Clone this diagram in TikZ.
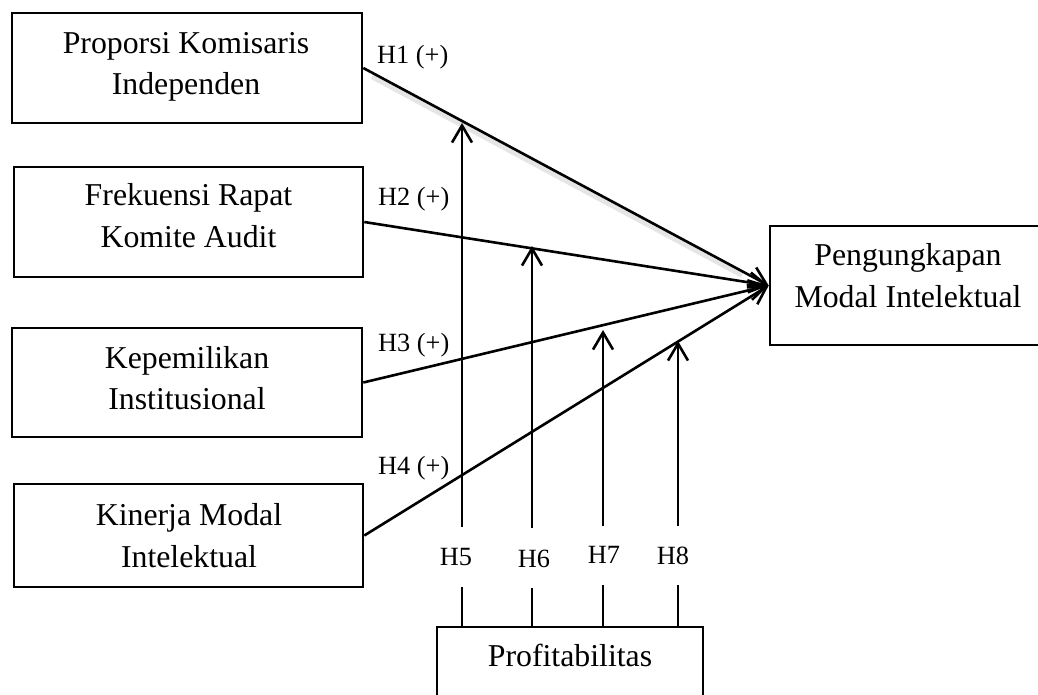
\documentclass[tikz,border=0pt]{standalone}
\usepackage{fontspec}
\setmainfont{Liberation Serif}
\usetikzlibrary{arrows.meta}
\begin{document}
\begin{tikzpicture}[x=1pt,y=-1pt,
  box/.style={draw, line width=2.6pt, inner sep=0pt},
  txt/.style={font=\fontsize{31.8}{41.5}\selectfont, inner sep=0pt, anchor=base},
  hyp/.style={font=\fontsize{26.3}{30}\selectfont, inner sep=0pt, anchor=base},
  hypw/.style={hyp, anchor=base west},
  plainline/.style={line width=2.6pt},
  conn/.style={line width=2.6pt, -{Straight Barb[length=17pt,width=20pt]}},
  shade/.style={preaction={draw, -, black!10, line width=6pt, shorten >=30pt, shorten <=10pt, transform canvas={yshift=-3.5pt}}}
]
\useasboundingbox (0,0) rectangle (1038,694);
\clip (0,0) rectangle (1038,694);

% boxes
\node[box, minimum width=350pt, minimum height=110pt] (b1) at (187,68) {};
\node[box, minimum width=349pt, minimum height=110pt] (b2) at (188.5,222) {};
\node[box, minimum width=350pt, minimum height=109pt] (b3) at (187,382.5) {};
\node[box, minimum width=349pt, minimum height=103pt] (b4) at (188.5,535.5) {};
\node[box, minimum width=280pt, minimum height=119pt] (r) at (910,285.5) {};
\node[box, minimum width=266pt, minimum height=94pt] (p) at (570,674) {};

% box texts
\node[txt] (b1a) at (186,53) {Proporsi Komisaris};
\node[txt] (b1b) at (186,94) {Independen};
\node[txt] (b2a) at (188.5,205) {Frekuensi Rapat};
\node[txt] (b2b) at (188.5,247) {Komite Audit};
\node[txt] (b3a) at (187,368) {Kepemilikan};
\node[txt] (b3b) at (187,409) {Institusional};
\node[txt] (b4a) at (189,525) {Kinerja Modal};
\node[txt] (b4b) at (189,567) {Intelektual};
\node[txt] (ra) at (908,265) {Pengungkapan};
\node[txt] (rb) at (908,307) {Modal Intelektual};
\node[txt] (pa) at (570,666) {Profitabilitas};

% hypothesis labels
\node[hypw] (l1) at (377,63) {H1 (+)};
\node[hypw] (l2) at (378,205) {H2 (+)};
\node[hypw] (l3) at (378,351) {H3 (+)};
\node[hypw] (l4) at (378,474) {H4 (+)};
\node[hyp] (l5) at (456,565) {H5};
\node[hyp] (l6) at (534,567) {H6};
\node[hyp] (l7) at (604,563) {H7};
\node[hyp] (l8) at (673,564) {H8};

% direct paths
\draw[conn, shade] (b1.east) -- (r.west);
\draw[conn] (b2.east) -- (r.west);
\draw[conn] (b3.east) -- (r.west);
\draw[conn] (b4.east) -- (r.west);

% moderator coordinates
\coordinate (m5lo) at (462,587);
\coordinate (m5hi) at (462,527);
\coordinate (m5tip) at (462,123);
\coordinate (m6lo) at (532,588);
\coordinate (m6hi) at (532,528);
\coordinate (m6tip) at (532,246);
\coordinate (m7lo) at (603,585);
\coordinate (m7hi) at (603,526);
\coordinate (m7tip) at (603,330);
\coordinate (m8lo) at (678,585);
\coordinate (m8hi) at (678,526);
\coordinate (m8tip) at (678,341);

\draw[plainline] (p.north -| m5lo) -- (m5lo);
\draw[plainline] (p.north -| m6lo) -- (m6lo);
\draw[plainline] (p.north -| m7lo) -- (m7lo);
\draw[plainline] (p.north -| m8lo) -- (m8lo);
\draw[conn] (m5hi) -- (m5tip);
\draw[conn] (m6hi) -- (m6tip);
\draw[conn] (m7hi) -- (m7tip);
\draw[conn] (m8hi) -- (m8tip);
\end{tikzpicture}
\end{document}
